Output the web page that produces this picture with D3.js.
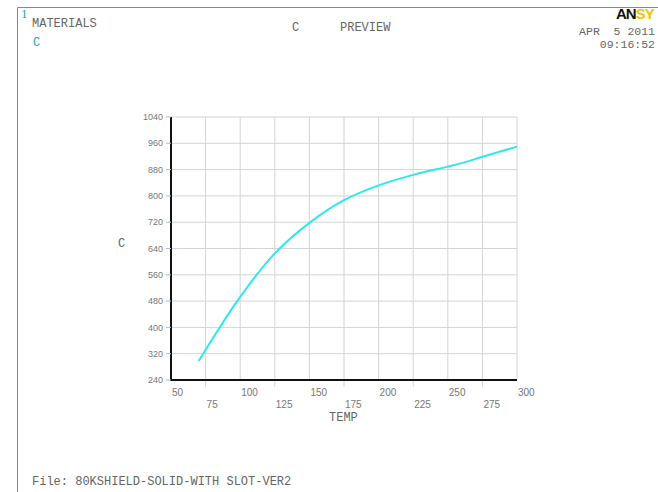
<!DOCTYPE html>
<html>
<head>
<meta charset="utf-8">
<script src="https://cdn.jsdelivr.net/npm/d3@7"></script>
<style>
  body { margin: 0; background: #fff; }
  .mono { font-family: "Liberation Mono", "DejaVu Sans Mono", monospace; fill: #666; }
  .tick { font-family: "Liberation Sans", Arial, sans-serif; fill: #777; }
</style>
</head>
<body>
<div id="chart"></div>
<script>
// Data
const temps = [70, 100, 125, 150, 175, 200, 225, 250, 262, 275, 300];
const cValues = [298, 493, 625, 718, 787, 832, 864, 889, 902, 919, 950];
const xTicks = [50, 75, 100, 125, 150, 175, 200, 225, 250, 275, 300];
const yTicks = [240, 320, 400, 480, 560, 640, 720, 800, 880, 960, 1040];

const width = 658;
const height = 492;
const plot = { left: 171, right: 517, top: 117, bottom: 380 };

const svg = d3
  .select("#chart")
  .append("svg")
  .attr("width", width)
  .attr("height", height);

// Scales
const x = d3.scaleLinear().domain([50, 300]).range([plot.left, plot.right]);
const y = d3.scaleLinear().domain([240, 1040]).range([plot.bottom, plot.top]);

// Frame
svg.append("line")
  .attr("x1", 17.5).attr("x2", width).attr("y1", 7.5).attr("y2", 7.5)
  .attr("stroke", "#888").attr("stroke-width", 1);
svg.append("line")
  .attr("x1", 17.5).attr("x2", 17.5).attr("y1", 7.5).attr("y2", height)
  .attr("stroke", "#888").attr("stroke-width", 1);

// Header texts
svg.append("text").attr("x", 21).attr("y", 18)
  .attr("font-family", "Liberation Serif, serif").attr("font-size", 13)
  .attr("fill", "#1aa8b0").text("1");
svg.append("text").attr("class", "mono").attr("x", 32).attr("y", 27)
  .attr("font-size", 12).text("MATERIALS");
svg.append("text").attr("class", "mono").attr("x", 33).attr("y", 46)
  .attr("font-size", 12).style("fill", "#1aa8b0").text("C");
svg.append("text").attr("class", "mono").attr("x", 292).attr("y", 31)
  .attr("font-size", 12).text("C");
svg.append("text").attr("class", "mono").attr("x", 340).attr("y", 31)
  .attr("font-size", 12).text("PREVIEW");
svg.append("text").attr("class", "mono").attr("x", 655).attr("y", 35)
  .attr("font-size", 11.5).attr("text-anchor", "end").attr("xml:space", "preserve")
  .text("APR  5 2011");
svg.append("text").attr("class", "mono").attr("x", 655).attr("y", 48)
  .attr("font-size", 11.5).attr("text-anchor", "end").text("09:16:52");

// ANSYS logo (only "ANSY" fits, as in the source)
const logo = svg.append("text").attr("x", 616).attr("y", 19)
  .attr("font-family", "Liberation Sans, Arial, sans-serif")
  .attr("font-weight", "bold").attr("font-size", 15)
  .attr("letter-spacing", -1);
logo.append("tspan").attr("fill", "#111").text("AN");
logo.append("tspan").attr("fill", "#f2c500").text("SY");

// Grid
svg.append("g")
  .selectAll("line")
  .data(yTicks)
  .join("line")
  .attr("x1", plot.left).attr("x2", plot.right)
  .attr("y1", (d) => y(d)).attr("y2", (d) => y(d))
  .attr("stroke", "#d4d4d4").attr("stroke-width", 1);
svg.append("g")
  .selectAll("line")
  .data(xTicks)
  .join("line")
  .attr("x1", (d) => x(d)).attr("x2", (d) => x(d))
  .attr("y1", plot.top)
  .attr("y2", (d, i) => (i % 2 === 1 ? plot.bottom + 7 : plot.bottom))
  .attr("stroke", "#d4d4d4").attr("stroke-width", 1);

// Axes lines
svg.append("line")
  .attr("x1", plot.left).attr("x2", plot.left)
  .attr("y1", plot.top).attr("y2", plot.bottom + 1)
  .attr("stroke", "#111").attr("stroke-width", 2);
svg.append("line")
  .attr("x1", plot.left - 1).attr("x2", plot.right)
  .attr("y1", plot.bottom).attr("y2", plot.bottom)
  .attr("stroke", "#111").attr("stroke-width", 2);

// Y tick labels
svg.append("g")
  .selectAll("text")
  .data(yTicks)
  .join("text")
  .attr("class", "tick")
  .attr("x", plot.left - 8)
  .attr("y", (d) => y(d))
  .attr("dy", "0.35em")
  .attr("text-anchor", "end")
  .attr("font-size", 9)
  .text((d) => d);
// small tick marks on the y axis
svg.append("g")
  .selectAll("line")
  .data(yTicks)
  .join("line")
  .attr("x1", plot.left - 5).attr("x2", plot.left)
  .attr("y1", (d) => y(d)).attr("y2", (d) => y(d))
  .attr("stroke", "#bbb");

// X tick labels, staggered
svg.append("g")
  .selectAll("text")
  .data(xTicks)
  .join("text")
  .attr("class", "tick")
  .attr("x", (d) => x(d) + 1)
  .attr("y", (d, i) => (i % 2 === 0 ? 396 : 408))
  .attr("font-size", 10)
  .text((d) => d);

// Axis titles
svg.append("text").attr("class", "mono").attr("x", 118).attr("y", 247)
  .attr("font-size", 12).text("C");
svg.append("text").attr("class", "mono").attr("x", 329).attr("y", 421)
  .attr("font-size", 12).text("TEMP");

// Curve
const line = d3
  .line()
  .x((d) => x(d[0]))
  .y((d) => y(d[1]))
  .curve(d3.curveCatmullRom);
svg.append("path")
  .datum(d3.zip(temps, cValues))
  .attr("d", line)
  .attr("fill", "none")
  .attr("stroke", "#2ee8ea")
  .attr("stroke-width", 2);

// Footer
svg.append("text").attr("class", "mono").attr("x", 32).attr("y", 485)
  .attr("font-size", 12).text("File: 80KSHIELD-SOLID-WITH SLOT-VER2");
</script>
</body>
</html>
